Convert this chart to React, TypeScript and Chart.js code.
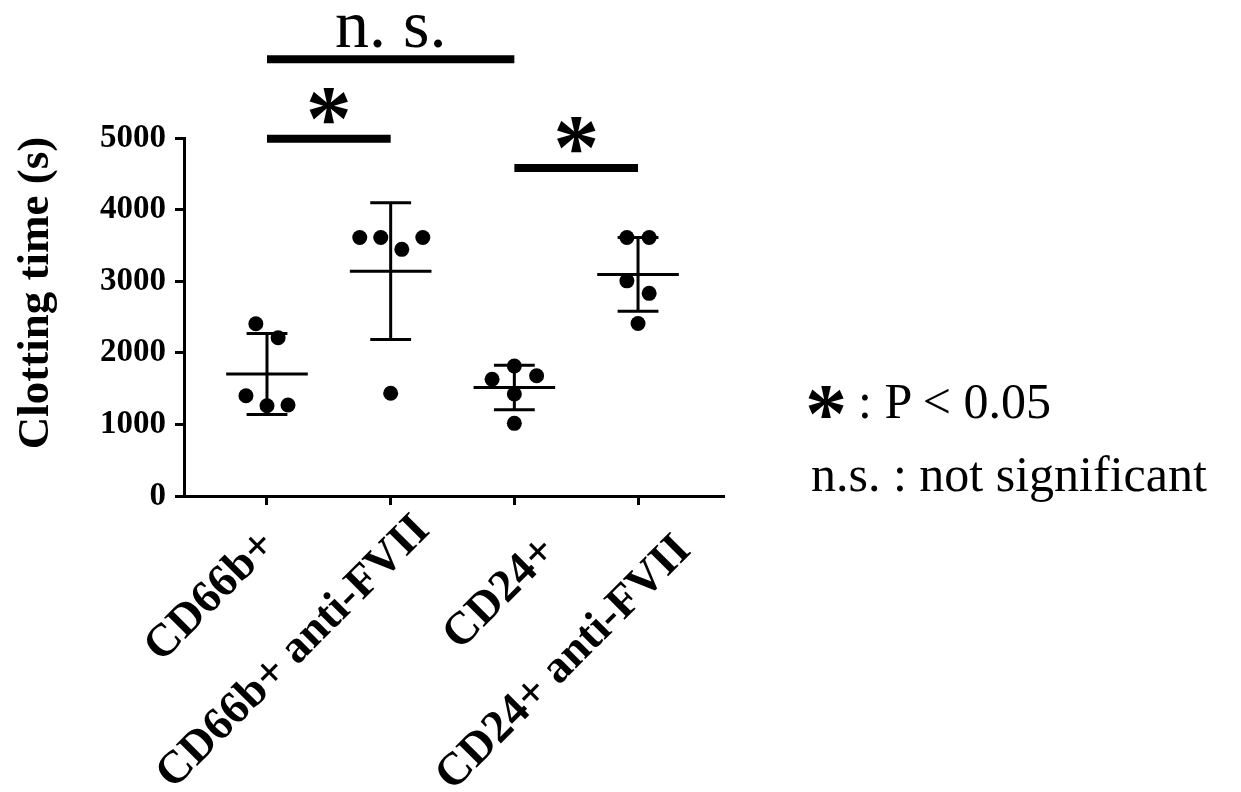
import React, { useEffect, useRef } from "react";
import { Chart, registerables } from "chart.js";

Chart.register(...registerables);

// ---- data ----
const categories = ["CD66b+", "CD66b+ anti-FVII", "CD24+", "CD24+ anti-FVII"];

const cd66bValues = [2405, 2210, 1400, 1260, 1270];
const cd66bAntiValues = [3610, 3610, 3445, 3610, 1435];
const cd24Values = [1815, 1630, 1680, 1425, 1015];
const cd24AntiValues = [3610, 3610, 3005, 2830, 2410];

// horizontal scatter of points around each category (category units)
const cd66bJitter = [-0.09, 0.09, -0.17, 0, 0.17];
const cd66bAntiJitter = [-0.25, -0.08, 0.09, 0.26, 0];
const cd24Jitter = [0, -0.18, 0.18, 0, 0];
const cd24AntiJitter = [-0.09, 0.09, -0.09, 0.09, 0];

const meanValues = [1705, 3140, 1515, 3095];
const sdValues = [565, 955, 310, 515];

const yTickValues = [0, 1000, 2000, 3000, 4000, 5000];

const comparisonFrom = [0, 0, 2];
const comparisonTo = [2, 1, 3];
const comparisonLevel = [6100, 4990, 4580];
const comparisonLabel = ["n. s.", "*", "*"];

const groupValues = [cd66bValues, cd66bAntiValues, cd24Values, cd24AntiValues];
const groupJitter = [cd66bJitter, cd66bAntiJitter, cd24Jitter, cd24AntiJitter];

// ---- layout / style constants ----
const SERIF = '"Liberation Serif", "Times New Roman", serif';
const LABEL_SHIFT_X = [2, 32, 35, 46];
const LABEL_SHIFT_Y = [10, -5, 16, 15];

function drawStar(ctx: CanvasRenderingContext2D, cx: number, cy: number, height: number) {
  ctx.save();
  ctx.font = `bold 100px ${SERIF}`;
  let m = ctx.measureText("*");
  const h100 = m.actualBoundingBoxAscent + m.actualBoundingBoxDescent;
  const size = (100 * height) / (h100 || 42);
  ctx.font = `bold ${size}px ${SERIF}`;
  ctx.textAlign = "left";
  ctx.textBaseline = "alphabetic";
  m = ctx.measureText("*");
  const x = cx - (m.actualBoundingBoxRight - m.actualBoundingBoxLeft) / 2;
  const y = cy + (m.actualBoundingBoxAscent - m.actualBoundingBoxDescent) / 2;
  ctx.fillStyle = "#000";
  ctx.fillText("*", x, y);
  ctx.restore();
}

const overlayPlugin = {
  id: "overlayPlugin",
  afterDatasetsDraw(chart: any) {
    const ctx: CanvasRenderingContext2D = chart.ctx;
    const xs = chart.scales.x;
    const ys = chart.scales.y;
    const unit = xs.getPixelForValue(1) - xs.getPixelForValue(0);
    ctx.save();
    ctx.strokeStyle = "#000";
    ctx.lineCap = "butt";
    ctx.lineWidth = 3;
    meanValues.forEach((m, i) => {
      const cx = xs.getPixelForValue(i);
      const ym = ys.getPixelForValue(m);
      const yt = ys.getPixelForValue(m + sdValues[i]);
      const yb = ys.getPixelForValue(m - sdValues[i]);
      const mw = unit * 0.33;
      const cw = unit * 0.165;
      ctx.beginPath();
      ctx.moveTo(cx - mw, ym);
      ctx.lineTo(cx + mw, ym);
      ctx.moveTo(cx, yt);
      ctx.lineTo(cx, yb);
      ctx.moveTo(cx - cw, yt);
      ctx.lineTo(cx + cw, yt);
      ctx.moveTo(cx - cw, yb);
      ctx.lineTo(cx + cw, yb);
      ctx.stroke();
    });

    ctx.lineWidth = 8;
    comparisonLevel.forEach((lvl, i) => {
      const x1 = xs.getPixelForValue(comparisonFrom[i]);
      const x2 = xs.getPixelForValue(comparisonTo[i]);
      const yy = ys.getPixelForValue(lvl);
      ctx.beginPath();
      ctx.moveTo(x1, yy);
      ctx.lineTo(x2, yy);
      ctx.stroke();
      const mid = (x1 + x2) / 2;
      if (comparisonLabel[i] === "*") {
        drawStar(ctx, mid, yy - 33, 35);
      } else {
        ctx.fillStyle = "#000";
        ctx.font = `68px ${SERIF}`;
        ctx.textAlign = "center";
        ctx.textBaseline = "alphabetic";
        ctx.fillText(comparisonLabel[i], mid, yy - 12);
      }
    });

    // rotated category labels
    const axisBottom = ys.getPixelForValue(0);
    categories.forEach((c, i) => {
      const ax = xs.getPixelForValue(i) + LABEL_SHIFT_X[i];
      const ay = axisBottom + 32.5 + LABEL_SHIFT_Y[i];
      ctx.save();
      ctx.translate(ax, ay);
      ctx.rotate(-Math.PI / 4);
      ctx.fillStyle = "#000";
      ctx.font = `bold 46px ${SERIF}`;
      ctx.textAlign = "right";
      ctx.textBaseline = "middle";
      ctx.fillText(c, 0, 0);
      ctx.restore();
    });

    // y axis title
    ctx.save();
    ctx.translate(36, 293);
    ctx.rotate(-Math.PI / 2);
    ctx.fillStyle = "#000";
    ctx.font = `bold 45px ${SERIF}`;
    ctx.textAlign = "center";
    ctx.textBaseline = "middle";
    ctx.fillText("Clotting time (s)", 0, 0);
    ctx.restore();

    // legend star
    drawStar(ctx, 826, 402, 32);
    ctx.restore();
  },
};

export default function App() {
  const canvasRef = useRef<HTMLCanvasElement | null>(null);

  useEffect(() => {
    if (!canvasRef.current) return;
    const datasets = groupValues.map((vals, g) => ({
      label: categories[g],
      data: vals.map((v, k) => ({ x: g + groupJitter[g][k], y: v })),
      backgroundColor: "#000",
      borderWidth: 0,
      pointRadius: 7.5,
      pointHoverRadius: 7.5,
    }));
    const chart = new Chart(canvasRef.current, {
      type: "scatter",
      data: { datasets },
      plugins: [overlayPlugin],
      options: {
        animation: false,
        responsive: false,
        devicePixelRatio: 1,
        events: [],
        layout: { padding: { top: 138, right: 518, bottom: 0, left: 0 } },
        plugins: {
          legend: { display: false },
          tooltip: { enabled: false },
          title: { display: false },
        },
        scales: {
          x: {
            type: "linear",
            min: -0.671,
            max: 3.687,
            afterBuildTicks: (s: any) => {
              s.ticks = categories.map((_, i) => ({ value: i }));
            },
            afterFit: (s: any) => {
              s.height = 296;
            },
            grid: {
              drawOnChartArea: false,
              drawTicks: true,
              tickLength: 9,
              lineWidth: 3,
              color: "#000",
            },
            border: { display: true, color: "#000", width: 3 },
            ticks: { display: false, autoSkip: false },
          },
          y: {
            type: "linear",
            min: 0,
            max: 5000,
            afterBuildTicks: (s: any) => {
              s.ticks = yTickValues.map((v) => ({ value: v }));
            },
            afterFit: (s: any) => {
              s.width = 184;
            },
            grid: {
              drawOnChartArea: false,
              drawTicks: true,
              tickLength: 9,
              lineWidth: 3,
              color: "#000",
            },
            border: { display: true, color: "#000", width: 3 },
            ticks: {
              padding: 9,
              color: "#000",
              font: { family: SERIF, weight: "bold", size: 33 },
              callback: (v: any) => String(v),
            },
          },
        },
      },
    } as any);
    return () => chart.destroy();
  }, []);

  const legendStyle: React.CSSProperties = {
    position: "absolute",
    fontFamily: SERIF,
    fontSize: 50,
    lineHeight: "50px",
    whiteSpace: "nowrap",
    color: "#000",
  };

  return (
    <div
      style={{
        position: "fixed",
        left: 0,
        top: 0,
        width: 1241,
        height: 792,
        background: "#fff",
        overflow: "hidden",
      }}
    >
      <canvas ref={canvasRef} width={1241} height={792} style={{ display: "block" }} />
      <div style={{ ...legendStyle, left: 858, top: 376 }}>: P &lt; 0.05</div>
      <div style={{ ...legendStyle, left: 811, top: 449 }}>n.s. : not significant</div>
    </div>
  );
}
